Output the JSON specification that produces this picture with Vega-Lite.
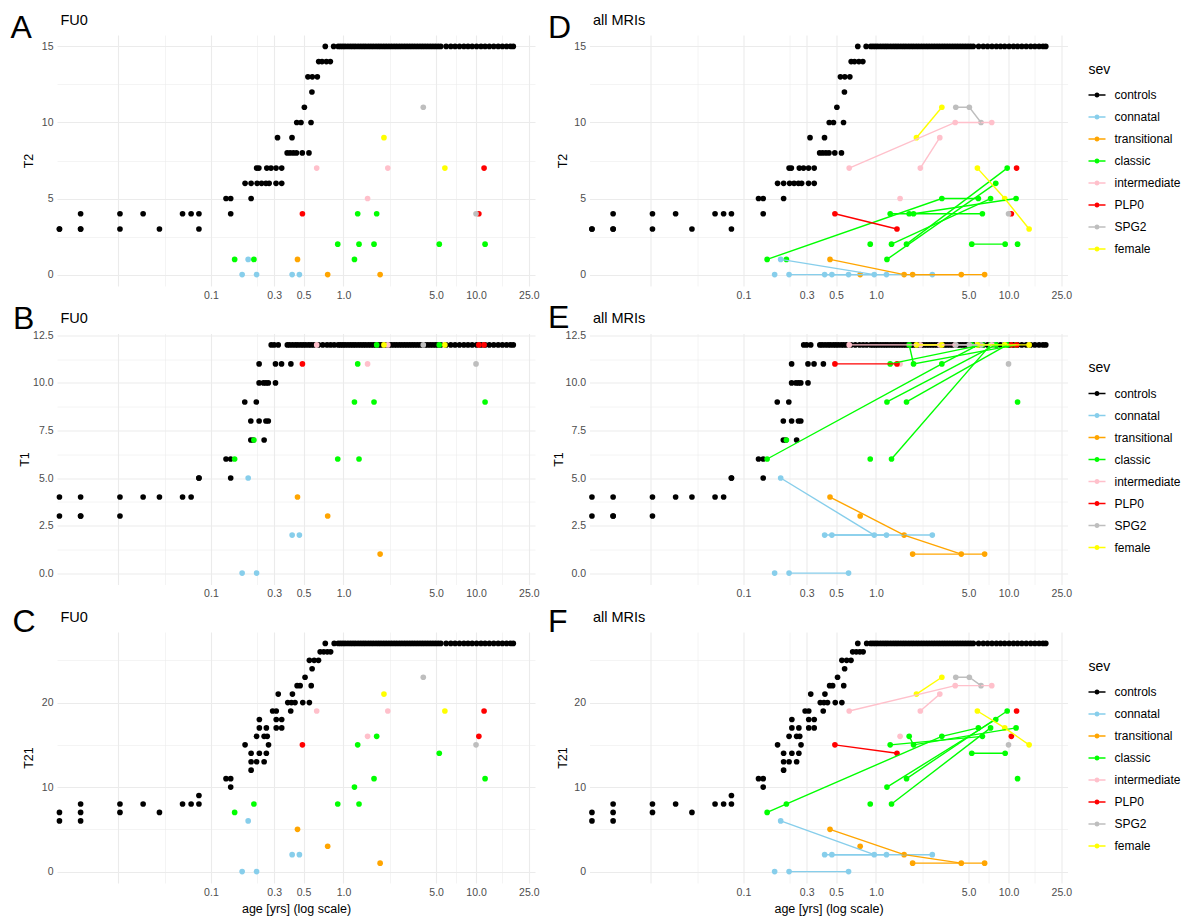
{
"$schema": "https://vega.github.io/schema/vega-lite/v6.json",
"padding": {"left": 10, "top": 11, "right": 5, "bottom": 5},
"config": {
  "font": "Liberation Sans",
  "view": {"stroke": null},
  "axis": {"domain": false, "ticks": false, "gridColor": "#EBEBEB", "labelColor": "#4D4D4D", "labelFontSize": 10.5, "labelPadding": 4, "titleColor": "#000000", "titleFontWeight": "normal", "titleFontSize": 12.5, "labelFlush": false, "labelOverlap": false, "labelBound": false}
},
"data": {"values": [
{"s":"controls","a":0.0072,"T2":3,"T1":4,"T21":7},
{"s":"controls","a":0.0072,"T2":3,"T1":3,"T21":6},
{"s":"controls","a":0.0104,"T2":4,"T1":4,"T21":8},
{"s":"controls","a":0.0104,"T2":3,"T1":3,"T21":7},
{"s":"controls","a":0.0104,"T2":3,"T1":3,"T21":6},
{"s":"controls","a":0.0206,"T2":4,"T1":4,"T21":8},
{"s":"controls","a":0.0206,"T2":3,"T1":3,"T21":7},
{"s":"controls","a":0.0308,"T2":4,"T1":4,"T21":8},
{"s":"controls","a":0.0409,"T2":3,"T1":4,"T21":7},
{"s":"controls","a":0.0611,"T2":4,"T1":4,"T21":8},
{"s":"controls","a":0.0709,"T2":4,"T1":4,"T21":8},
{"s":"controls","a":0.0812,"T2":4,"T1":5,"T21":9},
{"s":"controls","a":0.0812,"T2":3,"T1":5,"T21":8},
{"s":"controls","a":0.130,"T2":5,"T1":6,"T21":11},
{"s":"controls","a":0.141,"T2":5,"T1":6,"T21":11},
{"s":"controls","a":0.141,"T2":4,"T1":5,"T21":10},
{"s":"controls","a":0.181,"T2":6},{"s":"controls","a":0.201,"T2":6},{"s":"controls","a":0.223,"T2":6},{"s":"controls","a":0.241,"T2":6},{"s":"controls","a":0.260,"T2":6},{"s":"controls","a":0.275,"T2":6},{"s":"controls","a":0.310,"T2":6},{"s":"controls","a":0.342,"T2":6},
{"s":"controls","a":0.221,"T2":7},{"s":"controls","a":0.230,"T2":7},{"s":"controls","a":0.264,"T2":7},{"s":"controls","a":0.284,"T2":7},{"s":"controls","a":0.310,"T2":7},{"s":"controls","a":0.342,"T2":7},
{"s":"controls","a":0.201,"T2":5},
{"s":"controls","a":0.318,"T2":9},{"s":"controls","a":0.409,"T2":9},
{"s":"controls","a":0.376,"T2":8},{"s":"controls","a":0.396,"T2":8},{"s":"controls","a":0.419,"T2":8},{"s":"controls","a":0.442,"T2":8},{"s":"controls","a":0.489,"T2":8},{"s":"controls","a":0.549,"T2":8},
{"s":"controls","a":0.444,"T2":10},{"s":"controls","a":0.478,"T2":10},{"s":"controls","a":0.569,"T2":10},
{"s":"controls","a":0.507,"T2":11},{"s":"controls","a":0.578,"T2":12},
{"s":"controls","a":0.539,"T2":13},{"s":"controls","a":0.582,"T2":13},{"s":"controls","a":0.635,"T2":13},
{"s":"controls","a":0.650,"T2":14},{"s":"controls","a":0.689,"T2":14},{"s":"controls","a":0.743,"T2":14},{"s":"controls","a":0.796,"T2":14},
{"s":"controls","a":0.729,"T2":15},{"s":"controls","a":0.843,"T2":15},
{"s":"controls","a":0.200,"T1":7},{"s":"controls","a":0.209,"T1":7},{"s":"controls","a":0.252,"T1":7},
{"s":"controls","a":0.200,"T1":8},{"s":"controls","a":0.231,"T1":8},{"s":"controls","a":0.260,"T1":8},{"s":"controls","a":0.271,"T1":8},
{"s":"controls","a":0.180,"T1":9},{"s":"controls","a":0.220,"T1":9},
{"s":"controls","a":0.231,"T1":10},{"s":"controls","a":0.249,"T1":10},{"s":"controls","a":0.260,"T1":10},{"s":"controls","a":0.271,"T1":10},{"s":"controls","a":0.307,"T1":10},
{"s":"controls","a":0.231,"T1":11},{"s":"controls","a":0.307,"T1":11},{"s":"controls","a":0.341,"T1":11},{"s":"controls","a":0.401,"T1":11},
{"s":"controls","a":0.285,"T1":12},{"s":"controls","a":0.300,"T1":12},{"s":"controls","a":0.322,"T1":12},{"s":"controls","a":0.377,"T1":12},{"s":"controls","a":0.393,"T1":12},{"s":"controls","a":0.413,"T1":12},{"s":"controls","a":0.434,"T1":12},{"s":"controls","a":0.453,"T1":12},{"s":"controls","a":0.476,"T1":12},{"s":"controls","a":0.497,"T1":12},{"s":"controls","a":0.519,"T1":12},{"s":"controls","a":0.546,"T1":12},{"s":"controls","a":0.570,"T1":12},{"s":"controls","a":0.598,"T1":12},{"s":"controls","a":0.648,"T1":12},{"s":"controls","a":0.698,"T1":12},{"s":"controls","a":0.752,"T1":12},{"s":"controls","a":0.800,"T1":12},{"s":"controls","a":0.851,"T1":12},
{"s":"controls","a":0.201,"T21":12},
{"s":"controls","a":0.201,"T21":13},{"s":"controls","a":0.221,"T21":13},{"s":"controls","a":0.252,"T21":13},
{"s":"controls","a":0.201,"T21":14},{"s":"controls","a":0.232,"T21":14},{"s":"controls","a":0.262,"T21":14},
{"s":"controls","a":0.181,"T21":15},{"s":"controls","a":0.272,"T21":15},
{"s":"controls","a":0.221,"T21":16},{"s":"controls","a":0.252,"T21":16},{"s":"controls","a":0.266,"T21":16},
{"s":"controls","a":0.232,"T21":17},{"s":"controls","a":0.262,"T21":17},{"s":"controls","a":0.311,"T21":17},{"s":"controls","a":0.342,"T21":17},
{"s":"controls","a":0.232,"T21":18},{"s":"controls","a":0.311,"T21":18},{"s":"controls","a":0.342,"T21":18},
{"s":"controls","a":0.292,"T21":19},{"s":"controls","a":0.311,"T21":19},{"s":"controls","a":0.400,"T21":19},
{"s":"controls","a":0.380,"T21":20},{"s":"controls","a":0.405,"T21":20},{"s":"controls","a":0.431,"T21":20},{"s":"controls","a":0.493,"T21":20},{"s":"controls","a":0.553,"T21":20},
{"s":"controls","a":0.322,"T21":21},{"s":"controls","a":0.412,"T21":21},
{"s":"controls","a":0.447,"T21":22},{"s":"controls","a":0.471,"T21":22},{"s":"controls","a":0.571,"T21":22},
{"s":"controls","a":0.513,"T21":23},{"s":"controls","a":0.580,"T21":24},
{"s":"controls","a":0.553,"T21":25},{"s":"controls","a":0.601,"T21":25},{"s":"controls","a":0.648,"T21":25},
{"s":"controls","a":0.667,"T21":26},{"s":"controls","a":0.710,"T21":26},{"s":"controls","a":0.755,"T21":26},{"s":"controls","a":0.800,"T21":26},
{"s":"controls","a":0.729,"T21":27},{"s":"controls","a":0.851,"T21":27},
{"s":"controls","a":0.912,"T2":15,"T1":12,"T21":27},{"s":"controls","a":0.95,"T2":15,"T1":12,"T21":27},{"s":"controls","a":0.99,"T2":15,"T1":12,"T21":27},{"s":"controls","a":1.03,"T2":15,"T1":12,"T21":27},{"s":"controls","a":1.08,"T2":15,"T1":12,"T21":27},{"s":"controls","a":1.13,"T2":15,"T1":12,"T21":27},{"s":"controls","a":1.18,"T2":15,"T1":12,"T21":27},{"s":"controls","a":1.23,"T2":15,"T1":12,"T21":27},{"s":"controls","a":1.29,"T2":15,"T1":12,"T21":27},{"s":"controls","a":1.35,"T2":15,"T1":12,"T21":27},
{"s":"controls","a":1.41,"T2":15,"T1":12,"T21":27},{"s":"controls","a":1.47,"T2":15,"T1":12,"T21":27},{"s":"controls","a":1.54,"T2":15,"T1":12,"T21":27},{"s":"controls","a":1.61,"T2":15,"T1":12,"T21":27},{"s":"controls","a":1.68,"T2":15,"T1":12,"T21":27},{"s":"controls","a":1.76,"T2":15,"T1":12,"T21":27},{"s":"controls","a":1.84,"T2":15,"T1":12,"T21":27},{"s":"controls","a":1.92,"T2":15,"T1":12,"T21":27},{"s":"controls","a":2.01,"T2":15,"T1":12,"T21":27},{"s":"controls","a":2.1,"T2":15,"T1":12,"T21":27},
{"s":"controls","a":2.2,"T2":15,"T1":12,"T21":27},{"s":"controls","a":2.3,"T2":15,"T1":12,"T21":27},{"s":"controls","a":2.41,"T2":15,"T1":12,"T21":27},{"s":"controls","a":2.52,"T2":15,"T1":12,"T21":27},{"s":"controls","a":2.64,"T2":15,"T1":12,"T21":27},{"s":"controls","a":2.76,"T2":15,"T1":12,"T21":27},{"s":"controls","a":2.89,"T2":15,"T1":12,"T21":27},{"s":"controls","a":3.02,"T2":15,"T1":12,"T21":27},{"s":"controls","a":3.16,"T2":15,"T1":12,"T21":27},{"s":"controls","a":3.3,"T2":15,"T1":12,"T21":27},
{"s":"controls","a":3.45,"T2":15,"T1":12,"T21":27},{"s":"controls","a":3.61,"T2":15,"T1":12,"T21":27},{"s":"controls","a":3.78,"T2":15,"T1":12,"T21":27},{"s":"controls","a":3.95,"T2":15,"T1":12,"T21":27},{"s":"controls","a":4.13,"T2":15,"T1":12,"T21":27},{"s":"controls","a":4.32,"T2":15,"T1":12,"T21":27},{"s":"controls","a":4.52,"T2":15,"T1":12,"T21":27},{"s":"controls","a":4.73,"T2":15,"T1":12,"T21":27},{"s":"controls","a":4.95,"T2":15,"T1":12,"T21":27},{"s":"controls","a":5.18,"T2":15,"T1":12,"T21":27},
{"s":"controls","a":5.42,"T2":15,"T1":12,"T21":27},{"s":"controls","a":5.95,"T2":15,"T1":12,"T21":27},{"s":"controls","a":6.45,"T2":15,"T1":12,"T21":27},{"s":"controls","a":6.95,"T2":15,"T1":12,"T21":27},{"s":"controls","a":7.5,"T2":15,"T1":12,"T21":27},{"s":"controls","a":8.1,"T2":15,"T1":12,"T21":27},{"s":"controls","a":8.7,"T2":15,"T1":12,"T21":27},{"s":"controls","a":9.35,"T2":15,"T1":12,"T21":27},{"s":"controls","a":10.1,"T2":15,"T1":12,"T21":27},{"s":"controls","a":10.9,"T2":15,"T1":12,"T21":27},
{"s":"controls","a":11.7,"T2":15,"T1":12,"T21":27},{"s":"controls","a":12.6,"T2":15,"T1":12,"T21":27},{"s":"controls","a":13.6,"T2":15,"T1":12,"T21":27},{"s":"controls","a":14.7,"T2":15,"T1":12,"T21":27},{"s":"controls","a":15.8,"T2":15,"T1":12,"T21":27},{"s":"controls","a":17.0,"T2":15,"T1":12,"T21":27},{"s":"controls","a":18.2,"T2":15,"T1":12,"T21":27},{"s":"controls","a":19.1,"T2":15,"T1":12,"T21":27},
{"s":"connatal","id":"c1","f":0,"a":0.191,"T2":1,"T1":5,"T21":6},
{"s":"connatal","id":"c1","f":1,"a":0.97,"T2":0,"T1":2,"T21":2},
{"s":"connatal","id":"c2","f":0,"a":0.41,"T2":0,"T1":2,"T21":2},
{"s":"connatal","id":"c2","f":1,"a":1.2,"T2":0,"T1":2,"T21":2},
{"s":"connatal","id":"c3","f":0,"a":0.465,"T2":0,"T1":2,"T21":2},
{"s":"connatal","id":"c3","f":1,"a":2.66,"T2":0,"T1":2,"T21":2},
{"s":"connatal","id":"c4","f":0,"a":0.172,"T2":0,"T1":0,"T21":0},
{"s":"connatal","id":"c5","f":0,"a":0.221,"T2":0,"T1":0,"T21":0},
{"s":"connatal","id":"c5","f":1,"a":0.621,"T2":0,"T1":0,"T21":0},
{"s":"transitional","id":"t1","f":0,"a":0.45,"T2":1,"T1":4,"T21":5},
{"s":"transitional","id":"t1","f":1,"a":1.63,"T2":0,"T1":2,"T21":2},
{"s":"transitional","id":"t1","f":2,"a":4.4,"T2":0,"T1":1,"T21":1},
{"s":"transitional","id":"t2","f":0,"a":0.76,"T2":0,"T1":3,"T21":3},
{"s":"transitional","id":"t3","f":0,"a":1.89,"T2":0,"T1":1,"T21":1},
{"s":"transitional","id":"t3","f":1,"a":6.6,"T2":0,"T1":1,"T21":1},
{"s":"classic","id":"g1","f":0,"a":0.151,"T2":1,"T1":6,"T21":7},
{"s":"classic","id":"g1","f":1,"a":3.14,"T2":5,"T1":11,"T21":16},
{"s":"classic","id":"g1","f":2,"a":5.92,"T2":5,"T1":12,"T21":17},
{"s":"classic","id":"g2","f":0,"a":0.211,"T2":1,"T1":7,"T21":8},
{"s":"classic","id":"g3","f":0,"a":0.905,"T2":2,"T1":6,"T21":8},
{"s":"classic","id":"g4","f":0,"a":1.21,"T2":1,"T1":9,"T21":10},
{"s":"classic","id":"g4","f":1,"a":8.01,"T2":6,"T1":12,"T21":18},
{"s":"classic","id":"g5","f":0,"a":1.28,"T2":4,"T1":11,"T21":15},
{"s":"classic","id":"g5","f":1,"a":6.35,"T2":4,"T1":12,"T21":16},
{"s":"classic","id":"g6","f":0,"a":1.31,"T2":2,"T1":6,"T21":8},
{"s":"classic","id":"g6","f":1,"a":7.32,"T2":5,"T1":12,"T21":17},
{"s":"classic","id":"g7","f":0,"a":1.70,"T2":2,"T1":9,"T21":11},
{"s":"classic","id":"g7","f":1,"a":9.77,"T2":7,"T1":12,"T21":19},
{"s":"classic","id":"g8","f":0,"a":1.78,"T2":4,"T1":12,"T21":16},
{"s":"classic","id":"g8","f":1,"a":1.92,"T2":4,"T1":11,"T21":15},
{"s":"classic","id":"g8","f":2,"a":11.4,"T2":5,"T1":12,"T21":17},
{"s":"classic","id":"g9","f":0,"a":5.28,"T2":2,"T1":12,"T21":14},
{"s":"classic","id":"g9","f":1,"a":9.43,"T2":2,"T1":12,"T21":14},
{"s":"classic","id":"g10","f":0,"a":11.7,"T2":2,"T1":9,"T21":11},
{"s":"intermediate","id":"i1","f":0,"a":0.628,"T2":7,"T1":12,"T21":19},
{"s":"intermediate","id":"i1","f":1,"a":3.96,"T2":10,"T1":12,"T21":22},
{"s":"intermediate","id":"i1","f":2,"a":7.47,"T2":10,"T1":12,"T21":22},
{"s":"intermediate","id":"i2","f":0,"a":2.16,"T2":7,"T1":12,"T21":19},
{"s":"intermediate","id":"i2","f":1,"a":3.03,"T2":9,"T1":12,"T21":21},
{"s":"intermediate","id":"i3","f":0,"a":1.52,"T2":5,"T1":11,"T21":16},
{"s":"PLP0","id":"r1","f":0,"a":0.49,"T2":4,"T1":11,"T21":15},
{"s":"PLP0","id":"r1","f":1,"a":1.44,"T2":3,"T1":11,"T21":14},
{"s":"PLP0","id":"r2","f":0,"a":10.5,"T2":4,"T1":12,"T21":16},
{"s":"PLP0","id":"r3","f":0,"a":11.5,"T2":7,"T1":12,"T21":19},
{"s":"SPG2","id":"s1","f":0,"a":4.0,"T2":11,"T1":12,"T21":23},
{"s":"SPG2","id":"s1","f":1,"a":5.06,"T2":11,"T1":12,"T21":23},
{"s":"SPG2","id":"s1","f":2,"a":6.2,"T2":10,"T1":12,"T21":22},
{"s":"SPG2","id":"s2","f":0,"a":10.0,"T2":4,"T1":11,"T21":15},
{"s":"female","id":"y1","f":0,"a":2.02,"T2":9,"T1":12,"T21":21},
{"s":"female","id":"y1","f":1,"a":3.14,"T2":11,"T1":12,"T21":23},
{"s":"female","id":"y2","f":0,"a":5.82,"T2":7,"T1":12,"T21":19},
{"s":"female","id":"y2","f":1,"a":9.36,"T2":5,"T1":12,"T21":17},
{"s":"female","id":"y2","f":2,"a":14.3,"T2":3,"T1":12,"T21":15}
]},
"bounds": "flush",
"columns": 2,
"spacing": {"row": 47.5, "column": 54.5},
"resolve": {"scale": {"color": "independent"}, "legend": {"color": "independent"}},
"concat": [
  {"width": 478, "height": 251,
   "resolve": {"axis": {"x": "independent", "y": "independent"}},
   "layer": [
    {"transform": [{"filter": "!(datum.f > 0)"}],
     "mark": {"type": "point", "filled": true, "size": 32, "opacity": 1},
     "encoding": {
      "x": {"field": "a", "type": "quantitative", "scale": {"type": "log", "domain": [0.0069, 27.85], "nice": false},
            "axis": {"orient": "bottom", "title": null, "grid": true, "values": [0.02,0.0447,0.1,0.2236,0.3,0.5,1,2.236,5,7.07,10,15.81,25], "labelExpr": "indexof([0.1,0.3,0.5,1,5,10,25], datum.value) >= 0 ? format(datum.value, '.1f') : ''", "gridWidth": {"condition": {"test": "indexof([0.02,0.1,0.3,0.5,1,5,10,25], datum.value) >= 0", "value": 1.1}, "value": 0.55}}},
      "y": {"field": "T2", "type": "quantitative", "scale": {"domain": [-0.75, 15.75], "nice": false, "zero": false},
            "axis": {"orient": "left", "title": "T2", "grid": true, "values": [0,2.5,5,7.5,10,12.5,15], "labelExpr": "datum.value % 5 == 0 ? format(datum.value, 'd') : ''", "gridWidth": {"condition": {"test": "datum.value % 5 == 0", "value": 1.1}, "value": 0.55}, "titleX": -29, "titleY": 125.5, "titleBaseline": "middle", "titleAlign": "center"}},
      "color": {"field": "s", "type": "nominal", "legend": null, "scale": {"domain": ["controls","connatal","transitional","classic","intermediate","PLP0","SPG2","female"], "range": ["#000000","#87CEEB","#FFA500","#00FF00","#FFC0CB","#FF0000","#BEBEBE","#FFFF00"]}}
     }},
    {"transform": [{"filter": "!(datum.f > 0) && datum.s != 'controls'"}],
     "mark": {"type": "line", "strokeWidth": 1.4},
     "encoding": {
      "x": {"field": "a", "type": "quantitative", "scale": {"type": "log", "domain": [0.0069, 27.85], "nice": false},
            "axis": {"orient": "top", "title": "FU0", "labels": false, "grid": false, "titleX": 3, "titleY": -10.6, "titleAlign": "left", "titleBaseline": "alphabetic", "titleAngle": 0, "titleFontSize": 14.5}},
      "y": {"field": "T2", "type": "quantitative", "scale": {"domain": [-0.75, 15.75], "nice": false, "zero": false},
            "axis": {"orient": "left", "title": "A", "labels": false, "grid": false, "titleX": -47, "titleY": 2.4, "titleAlign": "left", "titleBaseline": "alphabetic", "titleAngle": 0, "titleFontSize": 32}},
      "color": {"field": "s", "type": "nominal", "legend": null, "scale": {"domain": ["controls","connatal","transitional","classic","intermediate","PLP0","SPG2","female"], "range": ["#000000","#87CEEB","#FFA500","#00FF00","#FFC0CB","#FF0000","#BEBEBE","#FFFF00"]}},
      "detail": {"field": "id"}
     }}
   ]},
  {"width": 478, "height": 251,
   "resolve": {"axis": {"x": "independent", "y": "independent"}},
   "layer": [
    {"mark": {"type": "point", "filled": true, "size": 32, "opacity": 1},
     "encoding": {
      "x": {"field": "a", "type": "quantitative", "scale": {"type": "log", "domain": [0.0069, 27.85], "nice": false},
            "axis": {"orient": "bottom", "title": null, "grid": true, "values": [0.02,0.0447,0.1,0.2236,0.3,0.5,1,2.236,5,7.07,10,15.81,25], "labelExpr": "indexof([0.1,0.3,0.5,1,5,10,25], datum.value) >= 0 ? format(datum.value, '.1f') : ''", "gridWidth": {"condition": {"test": "indexof([0.02,0.1,0.3,0.5,1,5,10,25], datum.value) >= 0", "value": 1.1}, "value": 0.55}}},
      "y": {"field": "T2", "type": "quantitative", "scale": {"domain": [-0.75, 15.75], "nice": false, "zero": false},
            "axis": {"orient": "left", "title": "T2", "grid": true, "values": [0,2.5,5,7.5,10,12.5,15], "labelExpr": "datum.value % 5 == 0 ? format(datum.value, 'd') : ''", "gridWidth": {"condition": {"test": "datum.value % 5 == 0", "value": 1.1}, "value": 0.55}, "titleX": -27, "titleY": 125.5, "titleBaseline": "middle", "titleAlign": "center"}},
      "color": {"field": "s", "type": "nominal", "scale": {"domain": ["controls","connatal","transitional","classic","intermediate","PLP0","SPG2","female"], "range": ["#000000","#87CEEB","#FFA500","#00FF00","#FFC0CB","#FF0000","#BEBEBE","#FFFF00"]},
        "legend": {"orient": "none", "legendX": 499, "legendY": 27.5, "title": "sev", "titleFontSize": 14, "titleFontWeight": "normal", "titleColor": "#000000", "titlePadding": 10, "labelFontSize": 12, "labelColor": "#000000", "labelOffset": 9, "symbolType": "M-1,-0.09H-0.3V0.09H-1Z M0.3,-0.09H1V0.09H0.3Z M-0.3,0A0.3,0.3 0 1,0 0.3,0A0.3,0.3 0 1,0 -0.3,0Z", "symbolSize": 289, "symbolStrokeWidth": 0, "symbolOpacity": 1, "rowPadding": 7}}
     }},
    {"transform": [{"filter": "datum.s != 'controls'"}],
     "mark": {"type": "line", "strokeWidth": 1.4},
     "encoding": {
      "x": {"field": "a", "type": "quantitative", "scale": {"type": "log", "domain": [0.0069, 27.85], "nice": false},
            "axis": {"orient": "top", "title": "all MRIs", "labels": false, "grid": false, "titleX": 3, "titleY": -10.6, "titleAlign": "left", "titleBaseline": "alphabetic", "titleAngle": 0, "titleFontSize": 14.5}},
      "y": {"field": "T2", "type": "quantitative", "scale": {"domain": [-0.75, 15.75], "nice": false, "zero": false},
            "axis": {"orient": "left", "title": "D", "labels": false, "grid": false, "titleX": -42, "titleY": 2.4, "titleAlign": "left", "titleBaseline": "alphabetic", "titleAngle": 0, "titleFontSize": 32}},
      "color": {"field": "s", "type": "nominal", "legend": null, "scale": {"domain": ["controls","connatal","transitional","classic","intermediate","PLP0","SPG2","female"], "range": ["#000000","#87CEEB","#FFA500","#00FF00","#FFC0CB","#FF0000","#BEBEBE","#FFFF00"]}},
      "detail": {"field": "id"}
     }}
   ]},
  {"width": 478, "height": 251,
   "resolve": {"axis": {"x": "independent", "y": "independent"}},
   "layer": [
    {"transform": [{"filter": "!(datum.f > 0)"}],
     "mark": {"type": "point", "filled": true, "size": 32, "opacity": 1},
     "encoding": {
      "x": {"field": "a", "type": "quantitative", "scale": {"type": "log", "domain": [0.0069, 27.85], "nice": false},
            "axis": {"orient": "bottom", "title": null, "grid": true, "values": [0.02,0.0447,0.1,0.2236,0.3,0.5,1,2.236,5,7.07,10,15.81,25], "labelExpr": "indexof([0.1,0.3,0.5,1,5,10,25], datum.value) >= 0 ? format(datum.value, '.1f') : ''", "gridWidth": {"condition": {"test": "indexof([0.02,0.1,0.3,0.5,1,5,10,25], datum.value) >= 0", "value": 1.1}, "value": 0.55}}},
      "y": {"field": "T1", "type": "quantitative", "scale": {"domain": [-0.6, 12.6], "nice": false, "zero": false},
            "axis": {"orient": "left", "title": "T1", "grid": true, "values": [0,1.25,2.5,3.75,5,6.25,7.5,8.75,10,11.25,12.5], "labelExpr": "datum.value % 2.5 == 0 ? format(datum.value, '.1f') : ''", "gridWidth": {"condition": {"test": "datum.value % 2.5 == 0", "value": 1.1}, "value": 0.55}, "titleX": -33, "titleY": 125.5, "titleBaseline": "middle", "titleAlign": "center"}},
      "color": {"field": "s", "type": "nominal", "legend": null, "scale": {"domain": ["controls","connatal","transitional","classic","intermediate","PLP0","SPG2","female"], "range": ["#000000","#87CEEB","#FFA500","#00FF00","#FFC0CB","#FF0000","#BEBEBE","#FFFF00"]}}
     }},
    {"transform": [{"filter": "!(datum.f > 0) && datum.s != 'controls'"}],
     "mark": {"type": "line", "strokeWidth": 1.4},
     "encoding": {
      "x": {"field": "a", "type": "quantitative", "scale": {"type": "log", "domain": [0.0069, 27.85], "nice": false},
            "axis": {"orient": "top", "title": "FU0", "labels": false, "grid": false, "titleX": 3, "titleY": -10.6, "titleAlign": "left", "titleBaseline": "alphabetic", "titleAngle": 0, "titleFontSize": 14.5}},
      "y": {"field": "T1", "type": "quantitative", "scale": {"domain": [-0.6, 12.6], "nice": false, "zero": false},
            "axis": {"orient": "left", "title": "B", "labels": false, "grid": false, "titleX": -44.5, "titleY": -5, "titleAlign": "left", "titleBaseline": "alphabetic", "titleAngle": 0, "titleFontSize": 32}},
      "color": {"field": "s", "type": "nominal", "legend": null, "scale": {"domain": ["controls","connatal","transitional","classic","intermediate","PLP0","SPG2","female"], "range": ["#000000","#87CEEB","#FFA500","#00FF00","#FFC0CB","#FF0000","#BEBEBE","#FFFF00"]}},
      "detail": {"field": "id"}
     }}
   ]},
  {"width": 478, "height": 251,
   "resolve": {"axis": {"x": "independent", "y": "independent"}},
   "layer": [
    {"mark": {"type": "point", "filled": true, "size": 32, "opacity": 1},
     "encoding": {
      "x": {"field": "a", "type": "quantitative", "scale": {"type": "log", "domain": [0.0069, 27.85], "nice": false},
            "axis": {"orient": "bottom", "title": null, "grid": true, "values": [0.02,0.0447,0.1,0.2236,0.3,0.5,1,2.236,5,7.07,10,15.81,25], "labelExpr": "indexof([0.1,0.3,0.5,1,5,10,25], datum.value) >= 0 ? format(datum.value, '.1f') : ''", "gridWidth": {"condition": {"test": "indexof([0.02,0.1,0.3,0.5,1,5,10,25], datum.value) >= 0", "value": 1.1}, "value": 0.55}}},
      "y": {"field": "T1", "type": "quantitative", "scale": {"domain": [-0.6, 12.6], "nice": false, "zero": false},
            "axis": {"orient": "left", "title": "T1", "grid": true, "values": [0,1.25,2.5,3.75,5,6.25,7.5,8.75,10,11.25,12.5], "labelExpr": "datum.value % 2.5 == 0 ? format(datum.value, '.1f') : ''", "gridWidth": {"condition": {"test": "datum.value % 2.5 == 0", "value": 1.1}, "value": 0.55}, "titleX": -31, "titleY": 125.5, "titleBaseline": "middle", "titleAlign": "center"}},
      "color": {"field": "s", "type": "nominal", "scale": {"domain": ["controls","connatal","transitional","classic","intermediate","PLP0","SPG2","female"], "range": ["#000000","#87CEEB","#FFA500","#00FF00","#FFC0CB","#FF0000","#BEBEBE","#FFFF00"]},
        "legend": {"orient": "none", "legendX": 499, "legendY": 27.5, "title": "sev", "titleFontSize": 14, "titleFontWeight": "normal", "titleColor": "#000000", "titlePadding": 10, "labelFontSize": 12, "labelColor": "#000000", "labelOffset": 9, "symbolType": "M-1,-0.09H-0.3V0.09H-1Z M0.3,-0.09H1V0.09H0.3Z M-0.3,0A0.3,0.3 0 1,0 0.3,0A0.3,0.3 0 1,0 -0.3,0Z", "symbolSize": 289, "symbolStrokeWidth": 0, "symbolOpacity": 1, "rowPadding": 7}}
     }},
    {"transform": [{"filter": "datum.s != 'controls'"}],
     "mark": {"type": "line", "strokeWidth": 1.4},
     "encoding": {
      "x": {"field": "a", "type": "quantitative", "scale": {"type": "log", "domain": [0.0069, 27.85], "nice": false},
            "axis": {"orient": "top", "title": "all MRIs", "labels": false, "grid": false, "titleX": 3, "titleY": -10.6, "titleAlign": "left", "titleBaseline": "alphabetic", "titleAngle": 0, "titleFontSize": 14.5}},
      "y": {"field": "T1", "type": "quantitative", "scale": {"domain": [-0.6, 12.6], "nice": false, "zero": false},
            "axis": {"orient": "left", "title": "E", "labels": false, "grid": false, "titleX": -42, "titleY": -6, "titleAlign": "left", "titleBaseline": "alphabetic", "titleAngle": 0, "titleFontSize": 32}},
      "color": {"field": "s", "type": "nominal", "legend": null, "scale": {"domain": ["controls","connatal","transitional","classic","intermediate","PLP0","SPG2","female"], "range": ["#000000","#87CEEB","#FFA500","#00FF00","#FFC0CB","#FF0000","#BEBEBE","#FFFF00"]}},
      "detail": {"field": "id"}
     }}
   ]},
  {"width": 478, "height": 251,
   "resolve": {"axis": {"x": "independent", "y": "independent"}},
   "layer": [
    {"transform": [{"filter": "!(datum.f > 0)"}],
     "mark": {"type": "point", "filled": true, "size": 32, "opacity": 1},
     "encoding": {
      "x": {"field": "a", "type": "quantitative", "scale": {"type": "log", "domain": [0.0069, 27.85], "nice": false},
            "axis": {"orient": "bottom", "title": "age [yrs] (log scale)", "titleY": 29, "titleBaseline": "alphabetic", "grid": true, "values": [0.02,0.0447,0.1,0.2236,0.3,0.5,1,2.236,5,7.07,10,15.81,25], "labelExpr": "indexof([0.1,0.3,0.5,1,5,10,25], datum.value) >= 0 ? format(datum.value, '.1f') : ''", "gridWidth": {"condition": {"test": "indexof([0.02,0.1,0.3,0.5,1,5,10,25], datum.value) >= 0", "value": 1.1}, "value": 0.55}}},
      "y": {"field": "T21", "type": "quantitative", "scale": {"domain": [-1.35, 28.35], "nice": false, "zero": false},
            "axis": {"orient": "left", "title": "T21", "grid": true, "values": [0,5,10,15,20,25], "labelExpr": "datum.value % 10 == 0 ? format(datum.value, 'd') : ''", "gridWidth": {"condition": {"test": "datum.value % 10 == 0", "value": 1.1}, "value": 0.55}, "titleX": -29, "titleY": 125.5, "titleBaseline": "middle", "titleAlign": "center"}},
      "color": {"field": "s", "type": "nominal", "legend": null, "scale": {"domain": ["controls","connatal","transitional","classic","intermediate","PLP0","SPG2","female"], "range": ["#000000","#87CEEB","#FFA500","#00FF00","#FFC0CB","#FF0000","#BEBEBE","#FFFF00"]}}
     }},
    {"transform": [{"filter": "!(datum.f > 0) && datum.s != 'controls'"}],
     "mark": {"type": "line", "strokeWidth": 1.4},
     "encoding": {
      "x": {"field": "a", "type": "quantitative", "scale": {"type": "log", "domain": [0.0069, 27.85], "nice": false},
            "axis": {"orient": "top", "title": "FU0", "labels": false, "grid": false, "titleX": 3, "titleY": -10.6, "titleAlign": "left", "titleBaseline": "alphabetic", "titleAngle": 0, "titleFontSize": 14.5}},
      "y": {"field": "T21", "type": "quantitative", "scale": {"domain": [-1.35, 28.35], "nice": false, "zero": false},
            "axis": {"orient": "left", "title": "C", "labels": false, "grid": false, "titleX": -45, "titleY": -1, "titleAlign": "left", "titleBaseline": "alphabetic", "titleAngle": 0, "titleFontSize": 32}},
      "color": {"field": "s", "type": "nominal", "legend": null, "scale": {"domain": ["controls","connatal","transitional","classic","intermediate","PLP0","SPG2","female"], "range": ["#000000","#87CEEB","#FFA500","#00FF00","#FFC0CB","#FF0000","#BEBEBE","#FFFF00"]}},
      "detail": {"field": "id"}
     }}
   ]},
  {"width": 478, "height": 251,
   "resolve": {"axis": {"x": "independent", "y": "independent"}},
   "layer": [
    {"mark": {"type": "point", "filled": true, "size": 32, "opacity": 1},
     "encoding": {
      "x": {"field": "a", "type": "quantitative", "scale": {"type": "log", "domain": [0.0069, 27.85], "nice": false},
            "axis": {"orient": "bottom", "title": "age [yrs] (log scale)", "titleY": 29, "titleBaseline": "alphabetic", "grid": true, "values": [0.02,0.0447,0.1,0.2236,0.3,0.5,1,2.236,5,7.07,10,15.81,25], "labelExpr": "indexof([0.1,0.3,0.5,1,5,10,25], datum.value) >= 0 ? format(datum.value, '.1f') : ''", "gridWidth": {"condition": {"test": "indexof([0.02,0.1,0.3,0.5,1,5,10,25], datum.value) >= 0", "value": 1.1}, "value": 0.55}}},
      "y": {"field": "T21", "type": "quantitative", "scale": {"domain": [-1.35, 28.35], "nice": false, "zero": false},
            "axis": {"orient": "left", "title": "T21", "grid": true, "values": [0,5,10,15,20,25], "labelExpr": "datum.value % 10 == 0 ? format(datum.value, 'd') : ''", "gridWidth": {"condition": {"test": "datum.value % 10 == 0", "value": 1.1}, "value": 0.55}, "titleX": -27, "titleY": 125.5, "titleBaseline": "middle", "titleAlign": "center"}},
      "color": {"field": "s", "type": "nominal", "scale": {"domain": ["controls","connatal","transitional","classic","intermediate","PLP0","SPG2","female"], "range": ["#000000","#87CEEB","#FFA500","#00FF00","#FFC0CB","#FF0000","#BEBEBE","#FFFF00"]},
        "legend": {"orient": "none", "legendX": 499, "legendY": 27.5, "title": "sev", "titleFontSize": 14, "titleFontWeight": "normal", "titleColor": "#000000", "titlePadding": 10, "labelFontSize": 12, "labelColor": "#000000", "labelOffset": 9, "symbolType": "M-1,-0.09H-0.3V0.09H-1Z M0.3,-0.09H1V0.09H0.3Z M-0.3,0A0.3,0.3 0 1,0 0.3,0A0.3,0.3 0 1,0 -0.3,0Z", "symbolSize": 289, "symbolStrokeWidth": 0, "symbolOpacity": 1, "rowPadding": 7}}
     }},
    {"transform": [{"filter": "datum.s != 'controls'"}],
     "mark": {"type": "line", "strokeWidth": 1.4},
     "encoding": {
      "x": {"field": "a", "type": "quantitative", "scale": {"type": "log", "domain": [0.0069, 27.85], "nice": false},
            "axis": {"orient": "top", "title": "all MRIs", "labels": false, "grid": false, "titleX": 3, "titleY": -10.6, "titleAlign": "left", "titleBaseline": "alphabetic", "titleAngle": 0, "titleFontSize": 14.5}},
      "y": {"field": "T21", "type": "quantitative", "scale": {"domain": [-1.35, 28.35], "nice": false, "zero": false},
            "axis": {"orient": "left", "title": "F", "labels": false, "grid": false, "titleX": -42, "titleY": -1, "titleAlign": "left", "titleBaseline": "alphabetic", "titleAngle": 0, "titleFontSize": 32}},
      "color": {"field": "s", "type": "nominal", "legend": null, "scale": {"domain": ["controls","connatal","transitional","classic","intermediate","PLP0","SPG2","female"], "range": ["#000000","#87CEEB","#FFA500","#00FF00","#FFC0CB","#FF0000","#BEBEBE","#FFFF00"]}},
      "detail": {"field": "id"}
     }}
   ]}
]
}
